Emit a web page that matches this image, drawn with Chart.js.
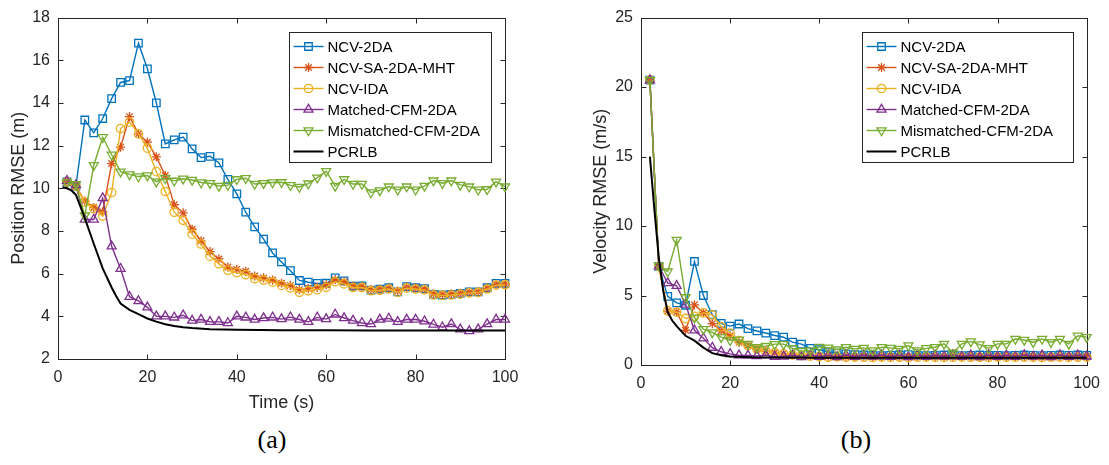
<!DOCTYPE html>
<html><head><meta charset="utf-8">
<script src="https://cdn.jsdelivr.net/npm/chart.js@4.4.0/dist/chart.umd.min.js"></script>
<style>
html,body{margin:0;padding:0;background:#fff;width:1109px;height:465px;overflow:hidden;}
.box{position:absolute;top:0;height:420px;}
#wa{left:0;width:540px;}
#wb{left:560px;width:549px;}
.cap{position:absolute;top:424px;font-family:"Liberation Serif","DejaVu Serif",serif;font-size:26px;color:#000;transform:translateX(-50%);line-height:32px;}
</style></head><body>
<div class="box" id="wa"><canvas id="ca"></canvas></div>
<div class="box" id="wb"><canvas id="cb"></canvas></div>
<div class="cap" style="left:272px">(a)</div>
<div class="cap" style="left:856px">(b)</div>
<script>
// ---------- data ----------
const seriesNames = ['NCV-2DA','NCV-SA-2DA-MHT','NCV-IDA','Matched-CFM-2DA','Mismatched-CFM-2DA','PCRLB'];
const timeSteps = [2,4,6,8,10,12,14,16,18,20,22,24,26,28,30,32,34,36,38,40,42,44,46,48,50,52,54,56,58,60,62,64,66,68,70,72,74,76,78,80,82,84,86,88,90,92,94,96,98,100];
const timeTicks = [0,20,40,60,80,100];
const posTicks = [2,4,6,8,10,12,14,16,18];
const velTicks = [0,5,10,15,20,25];

const posNcv2da = [10.3,10.1,13.2,12.6,13.27,14.2,14.96,15.05,16.8,15.6,
 14.0,12.08,12.27,12.4,11.85,11.44,11.5,11.19,10.42,9.74,
 8.88,8.19,7.62,6.97,6.55,6.14,5.68,5.6,5.54,5.55,
 5.8,5.66,5.42,5.43,5.23,5.27,5.34,5.15,5.39,5.34,
 5.3,5.03,5.0,5.03,5.08,5.15,5.15,5.34,5.54,5.54];
const posNcvSaMht = [10.3,10.1,9.4,9.1,8.9,11.16,11.93,13.36,12.55,12.16,
 11.47,10.6,9.23,8.85,8.08,7.54,7.03,6.69,6.31,6.2,
 6.11,5.89,5.8,5.7,5.55,5.45,5.25,5.3,5.36,5.48,
 5.72,5.62,5.42,5.4,5.25,5.27,5.32,5.18,5.37,5.33,
 5.28,5.05,5.02,5.05,5.08,5.13,5.15,5.32,5.5,5.52];
const posNcvIda = [10.3,10.1,9.35,9.05,8.7,9.8,12.8,13.1,12.55,11.88,
 10.78,9.85,8.88,8.5,7.85,7.39,6.82,6.46,6.16,6.05,
 5.95,5.77,5.7,5.6,5.45,5.33,5.13,5.2,5.25,5.36,
 5.62,5.52,5.35,5.35,5.2,5.22,5.28,5.13,5.32,5.28,
 5.24,5.0,4.98,5.0,5.04,5.1,5.12,5.28,5.46,5.48];
const posMatched = [10.35,10.15,8.54,8.54,9.54,7.28,6.23,4.92,4.72,4.42,
 4.0,4.0,3.95,4.05,3.8,3.85,3.74,3.74,3.69,4.0,
 3.95,3.85,3.92,3.95,3.87,3.96,3.85,3.74,3.95,3.87,
 4.09,3.92,3.8,3.69,3.64,3.85,3.9,3.74,3.85,3.85,
 3.77,3.62,3.49,3.64,3.39,3.31,3.39,3.64,3.85,3.85];
const posMismatched = [10.27,10.19,8.72,11.08,12.39,11.57,10.78,10.65,10.55,10.6,
 10.31,10.47,10.35,10.45,10.39,10.27,10.24,10.11,10.15,10.42,
 10.47,10.2,10.24,10.27,10.28,10.14,10.06,10.22,10.5,10.8,
 10.11,10.42,10.2,10.2,9.8,9.9,10.08,9.93,10.08,9.93,
 10.11,10.36,10.24,10.36,10.16,10.08,9.93,9.95,10.31,10.08];
const posPcrlbTime = [1,2,3,4,5,6,7,8,10,12,13,14,16,18,20,22,24,26,28,30,34,40,50,60,70,80,90,100];
const posPcrlb = [10.05,10.0,9.9,9.7,9.15,8.6,8.0,7.4,6.25,5.35,4.95,4.6,4.3,4.1,3.9,3.75,3.63,3.55,3.49,3.45,3.4,3.37,3.35,3.35,3.34,3.34,3.34,3.34];

const velNcv2da = [20.5,7.1,4.94,4.47,4.3,7.45,5.0,3.62,3.0,2.8,
 2.95,2.62,2.45,2.3,2.12,2.0,1.65,1.5,1.2,1.1,
 0.95,0.85,0.8,0.75,0.72,0.7,0.68,0.7,0.72,0.74,
 0.7,0.68,0.7,0.72,0.7,0.68,0.7,0.72,0.7,0.7,
 0.68,0.7,0.72,0.7,0.68,0.7,0.72,0.7,0.72,0.7];
const velNcvSaMht = [20.5,7.1,3.88,3.82,2.5,4.33,3.76,2.98,2.46,2.1,
 1.63,1.4,1.15,1.0,0.9,0.82,0.75,0.7,0.66,0.62,
 0.6,0.62,0.58,0.6,0.62,0.58,0.6,0.62,0.6,0.58,
 0.6,0.62,0.6,0.58,0.6,0.62,0.6,0.6,0.58,0.62,
 0.6,0.6,0.62,0.6,0.58,0.6,0.62,0.6,0.6,0.62];
const velNcvIda = [20.5,7.1,3.9,3.8,3.35,3.5,3.76,3.6,2.75,2.3,
 1.75,1.4,1.15,1.0,0.9,0.8,0.72,0.68,0.64,0.6,
 0.56,0.58,0.55,0.57,0.56,0.54,0.57,0.55,0.56,0.54,
 0.56,0.57,0.55,0.54,0.56,0.57,0.55,0.56,0.54,0.57,
 0.55,0.56,0.57,0.55,0.54,0.56,0.57,0.55,0.56,0.57];
const velMatched = [20.5,7.1,5.9,5.7,4.35,2.5,1.93,1.25,0.95,0.8,
 0.7,0.68,0.65,0.7,0.6,0.62,0.7,0.58,0.72,0.6,
 0.7,0.58,0.72,0.6,0.7,0.62,0.72,0.6,0.7,0.58,
 0.72,0.6,0.7,0.62,0.72,0.6,0.7,0.58,0.72,0.6,
 0.7,0.6,0.72,0.62,0.7,0.58,0.72,0.6,0.7,0.62];
const velMismatched = [20.5,7.15,6.72,9.0,4.87,3.4,2.58,2.34,2.0,1.78,
 1.82,1.52,1.28,1.36,1.5,1.5,1.2,1.0,1.05,1.3,
 1.25,1.11,1.28,1.16,1.23,1.04,1.28,1.23,1.16,1.4,
 1.04,1.2,1.28,1.52,0.88,1.52,1.7,1.47,1.2,1.52,
 1.52,1.87,1.8,1.64,1.87,1.64,1.87,1.52,2.1,2.0];
const velPcrlbTime = [2,3,4,5,6,7,8,10,12,13,14,16,18,20,25,30,40,60,80,100];
const velPcrlb = [15.0,11.2,7.7,5.3,3.8,3.2,2.8,2.1,1.75,1.5,1.25,0.85,0.7,0.62,0.56,0.54,0.52,0.52,0.52,0.52];

// ---------- styles ----------
const FONT = '"Liberation Sans", Arial, Helvetica, sans-serif';
const AX = '#262626';
const styles = [
  {color:'#0072BD', pointStyle:'rect', radius:5.3, rotation:0},
  {color:'#D95319', pointStyle:'star', radius:4.6, rotation:0},
  {color:'#EDB120', pointStyle:'circle', radius:4.2, rotation:0},
  {color:'#7E2F8E', pointStyle:'triangle', radius:5.2, rotation:0},
  {color:'#77AC30', pointStyle:'triangle', radius:5.2, rotation:180},
  {color:'#000000', pointStyle:false, radius:0, rotation:0}
];

function pairs(xs, ys){ return xs.map((x,i)=>({x:x, y:ys[i]})); }

function makeDatasets(seriesList){
  return seriesList.map((s,i)=>{
    const st = styles[i];
    return {
      label: seriesNames[i],
      data: pairs(s[0], s[1]),
      borderColor: st.color,
      backgroundColor: 'rgba(0,0,0,0)',
      borderWidth: i===5 ? 2 : 1.4,
      pointStyle: st.pointStyle || 'circle',
      pointRadius: st.radius,
      pointHoverRadius: st.radius,
      pointBorderWidth: 1.3,
      pointBorderColor: st.color,
      pointBackgroundColor: 'rgba(0,0,0,0)',
      pointRotation: st.rotation,
      tension: 0,
      clip: false,
      order: 5 - i
    };
  });
}

const frame = {
  id:'frame',
  beforeDatasetsDraw(chart){
    const {ctx, chartArea:{left,right,top,bottom}, scales:{x,y}} = chart;
    ctx.save();
    ctx.strokeStyle = AX; ctx.lineWidth = 1;
    const L=Math.round(left)+0.5, R=Math.round(right)+0.5, T=Math.round(top)+0.5, B=Math.round(bottom)+0.5;
    ctx.strokeRect(L, T, R-L, B-T);
    const tl = 5;
    ctx.beginPath();
    x.ticks.forEach(t=>{ const p=Math.round(x.getPixelForValue(t.value))+0.5; ctx.moveTo(p,B); ctx.lineTo(p,B-tl); ctx.moveTo(p,T); ctx.lineTo(p,T+tl); });
    y.ticks.forEach(t=>{ const p=Math.round(y.getPixelForValue(t.value))+0.5; ctx.moveTo(L,p); ctx.lineTo(L+tl,p); ctx.moveTo(R,p); ctx.lineTo(R-tl,p); });
    ctx.stroke();
    ctx.restore();
  },
  afterDatasetsDraw(chart, args, opts){
    const {ctx, chartArea:{right,top}} = chart;
    const extra = (opts && opts.extra) || 0;
    ctx.save();
    ctx.font = '15px ' + FONT;
    let maxW = 0;
    seriesNames.forEach(n=>{ maxW = Math.max(maxW, ctx.measureText(n).width); });
    const w = Math.round(38 + maxW + 8) + extra, h = 130;
    const bx = Math.round(right - 14 - w) + 0.5, by = Math.round(top + 14) + 0.5;
    const ix = bx;
    ctx.fillStyle = '#fff'; ctx.fillRect(bx, by, w, h);
    ctx.strokeStyle = AX; ctx.lineWidth = 1; ctx.strokeRect(bx, by, w, h);
    seriesNames.forEach((n,i)=>{
      const st = styles[i];
      const yy = by + 14 + i*21;
      ctx.strokeStyle = st.color; ctx.lineWidth = i===5 ? 2 : 1.4;
      ctx.beginPath(); ctx.moveTo(ix+4, yy); ctx.lineTo(ix+34, yy); ctx.stroke();
      if (st.pointStyle) {
        ctx.lineWidth = 1.3; ctx.fillStyle = 'rgba(0,0,0,0)';
        Chart.helpers.drawPoint(ctx, {pointStyle: st.pointStyle, radius: st.radius, rotation: st.rotation, borderWidth:1.3}, ix+19, yy);
      }
      ctx.fillStyle = '#000'; ctx.textBaseline = 'middle'; ctx.textAlign = 'left';
      ctx.fillText(n, ix+38, yy+1);
    });
    ctx.restore();
  }
};

function makeChart(id, datasets, yMin, yMax, yTickArr, yTitle, xTitle, cfg){
  return new Chart(document.getElementById(id), {
    type:'line',
    data:{datasets},
    options:{
      responsive:true, maintainAspectRatio:false, animation:false,
      layout:{padding:{top:12, right:cfg.padRight, left:0, bottom:0}},
      plugins:{legend:{display:false}, tooltip:{enabled:false}, frame:{extra:cfg.legendExtra}},
      scales:{
        x:{type:'linear', min:0, max:100,
          grid:{display:false, drawTicks:false}, border:{display:false},
          afterBuildTicks: s=>{ s.ticks = timeTicks.map(v=>({value:v})); },
          afterFit: s=>{ s.height = cfg.xHeight; },
          ticks:{color:AX, font:{family:FONT, size:16}, padding:cfg.xPad, maxRotation:0, autoSkip:false},
          title:{display:!!xTitle, text:xTitle, color:AX, font:{family:FONT, size:18}, padding:{top:0,bottom:6}}
        },
        y:{type:'linear', min:yMin, max:yMax,
          grid:{display:false, drawTicks:false}, border:{display:false},
          afterBuildTicks: s=>{ s.ticks = yTickArr.map(v=>({value:v})); },
          afterFit: s=>{ s.width = cfg.yWidth; },
          ticks:{color:AX, font:{family:FONT, size:16}, padding:8, autoSkip:false},
          title:{display:true, text:yTitle, color:AX, font:{family:FONT, size:18}, padding:{top:cfg.yTitlePad,bottom:0}}
        }
      }
    },
    plugins:[frame]
  });
}

makeChart('ca', makeDatasets([
  [timeSteps,posNcv2da],[timeSteps,posNcvSaMht],[timeSteps,posNcvIda],
  [timeSteps,posMatched],[timeSteps,posMismatched],[posPcrlbTime,posPcrlb]
]), 2, 18, posTicks, 'Position RMSE (m)', 'Time (s)', {padRight:35, xHeight:61, yWidth:58, xPad:9, yTitlePad:8, legendExtra:3});

makeChart('cb', makeDatasets([
  [timeSteps,velNcv2da],[timeSteps,velNcvSaMht],[timeSteps,velNcvIda],
  [timeSteps,velMatched],[timeSteps,velMismatched],[velPcrlbTime,velPcrlb]
]), 0, 25, velTicks, 'Velocity RMSE (m/s)', '', {padRight:21, xHeight:55, yWidth:81, xPad:9, yTitlePad:30, legendExtra:12});
</script>
</body></html>
